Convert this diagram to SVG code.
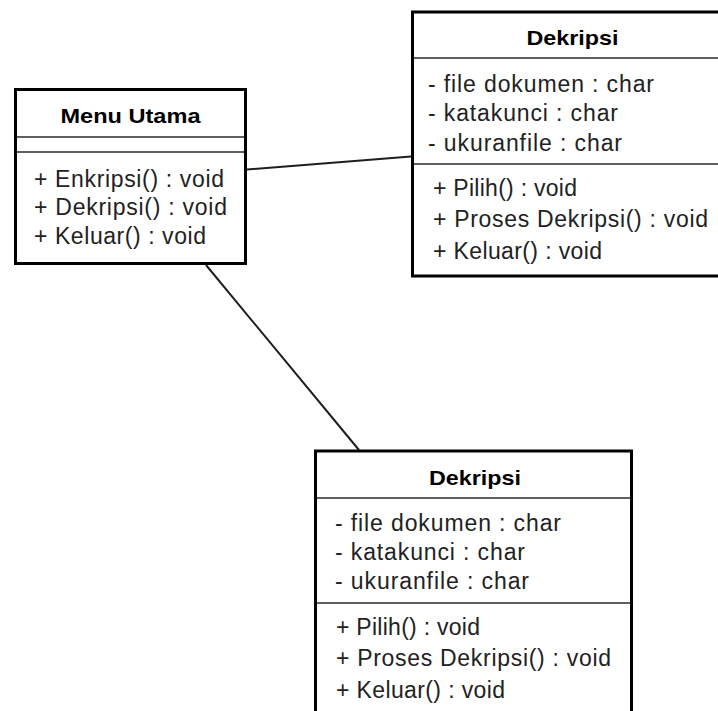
<svg xmlns="http://www.w3.org/2000/svg" width="718" height="711" viewBox="0 0 718 711">
  <style>
    .box { fill: #ffffff; stroke: #000000; stroke-width: 3; }
    .sep { stroke: #2a2a2a; stroke-width: 1.6; }
    .link { stroke: #1e1e1e; stroke-width: 2; fill: none; }
    .title { font-family: "Liberation Sans", Arial, sans-serif; font-size: 21px; font-weight: bold; fill: #000000; text-anchor: middle; }
    .item { font-family: "Liberation Sans", Arial, sans-serif; font-size: 23px; fill: #222222; }
  </style>
  <rect x="0" y="0" width="718" height="711" fill="#ffffff"/>

  <!-- associations -->
  <g id="connectors">
    <line class="link" x1="247" y1="169.5" x2="411" y2="156.5"/>
    <line class="link" x1="206" y1="265" x2="359" y2="450"/>
  </g>

  <!-- class: Menu Utama -->
  <g id="menu-utama">
    <rect class="box" x="15.5" y="89.5" width="230" height="174"/>
    <line class="sep" x1="17" y1="137" x2="244" y2="137"/>
    <line class="sep" x1="17" y1="152" x2="244" y2="152"/>
    <text class="title" x="130.5" y="123" textLength="140" lengthAdjust="spacingAndGlyphs">Menu Utama</text>
    <text class="item" x="34" y="187" textLength="190" lengthAdjust="spacing">+ Enkripsi() : void</text>
    <text class="item" x="34" y="215" textLength="193" lengthAdjust="spacing">+ Dekripsi() : void</text>
    <text class="item" x="34" y="244" textLength="172" lengthAdjust="spacing">+ Keluar() : void</text>
  </g>

  <!-- class: Dekripsi (right) -->
  <g id="dekripsi-kanan">
    <rect class="box" x="412.5" y="12" width="330" height="264"/>
    <line class="sep" x1="414" y1="58" x2="718" y2="58"/>
    <line class="sep" x1="414" y1="164" x2="718" y2="164"/>
    <text class="title" x="572.5" y="45" textLength="92" lengthAdjust="spacingAndGlyphs">Dekripsi</text>
    <text class="item" x="428" y="92" textLength="226" lengthAdjust="spacing">- file dokumen : char</text>
    <text class="item" x="428" y="121" textLength="190" lengthAdjust="spacing">- katakunci : char</text>
    <text class="item" x="428" y="151" textLength="194" lengthAdjust="spacing">- ukuranfile : char</text>
    <text class="item" x="433" y="196" textLength="144" lengthAdjust="spacing">+ Pilih() : void</text>
    <text class="item" x="433" y="227" textLength="275" lengthAdjust="spacing">+ Proses Dekripsi() : void</text>
    <text class="item" x="433" y="259" textLength="169" lengthAdjust="spacing">+ Keluar() : void</text>
  </g>

  <!-- class: Dekripsi (bottom) -->
  <g id="dekripsi-bawah">
    <rect class="box" x="315.5" y="451" width="316" height="300"/>
    <line class="sep" x1="317" y1="498" x2="630" y2="498"/>
    <line class="sep" x1="317" y1="603" x2="630" y2="603"/>
    <text class="title" x="475" y="485" textLength="92" lengthAdjust="spacingAndGlyphs">Dekripsi</text>
    <text class="item" x="335" y="531" textLength="226" lengthAdjust="spacing">- file dokumen : char</text>
    <text class="item" x="335" y="560" textLength="190" lengthAdjust="spacing">- katakunci : char</text>
    <text class="item" x="335" y="589" textLength="194" lengthAdjust="spacing">- ukuranfile : char</text>
    <text class="item" x="336" y="635" textLength="144" lengthAdjust="spacing">+ Pilih() : void</text>
    <text class="item" x="336" y="666" textLength="275" lengthAdjust="spacing">+ Proses Dekripsi() : void</text>
    <text class="item" x="336" y="698" textLength="169" lengthAdjust="spacing">+ Keluar() : void</text>
  </g>
</svg>
